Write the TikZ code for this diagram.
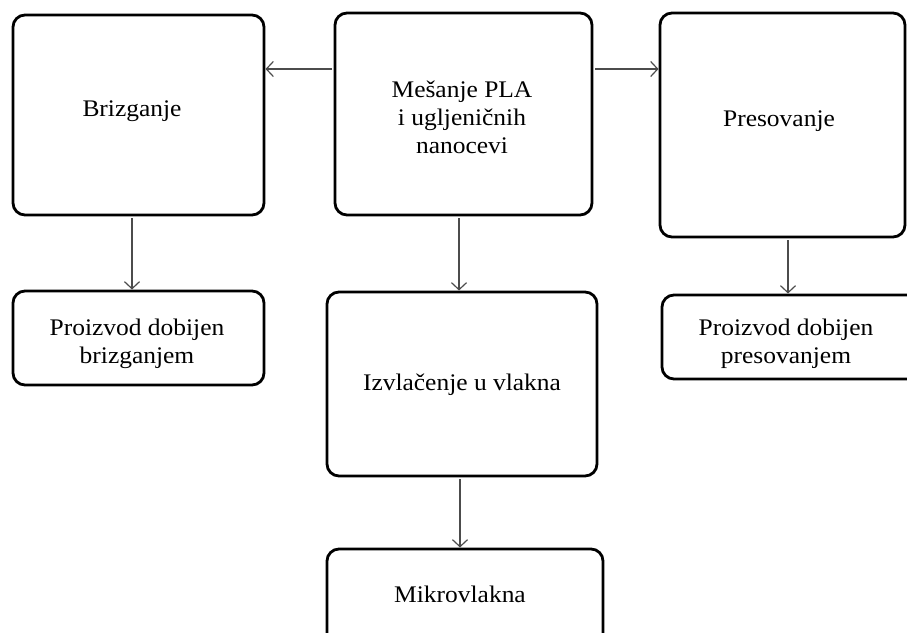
\documentclass[tikz,border=0pt]{standalone}
\usepackage{fontspec}
\setmainfont{Liberation Serif}[FakeStretch=1.07]
\usetikzlibrary{arrows.meta}

\tikzset{
  stage/.style={draw=black, line width=2.8pt, rounded corners=12pt,
                inner sep=0pt, outer sep=0pt},
  label/.style={align=center, anchor=base, inner sep=0pt,
                font=\fontsize{23.8}{28}\selectfont, text=black},
  flow/.style={draw=black!70, line width=1.2pt,
               -{Straight Barb[length=7pt,width=15pt,line width=1.2pt]},
               shorten <=3pt, shorten >=1.5pt}
}

\begin{document}
\begin{tikzpicture}[x=1pt, y=-1pt]
  \useasboundingbox (0,0) rectangle (907,632);

  % process boxes
  \node[stage, minimum width=251pt, minimum height=200pt] (brz)  at (138.5,115) {};
  \node[stage, minimum width=257pt, minimum height=202pt] (mes)  at (463.5,114) {};
  \node[stage, minimum width=245pt, minimum height=224pt] (pres) at (782.5,125) {};
  \node[stage, minimum width=251pt, minimum height=94pt]  (pbrz) at (138.5,338) {};
  \node[stage, minimum width=270pt, minimum height=184pt] (izv)  at (462,384) {};
  \node[stage, minimum width=258pt, minimum height=84pt]  (ppres) at (791,337) {};
  \node[stage, minimum width=276pt, minimum height=96pt]  (mik)  at (465,597) {};

  % box texts (base anchor = baseline of the last line)
  \node[label] (tbrz)  at (132,116) {Brizganje};
  \node[label] (tmes)  at (462,153) {Mešanje PLA\\i ugljeničnih\\nanocevi};
  \node[label] (tpres) at (779,126) {Presovanje};
  \node[label] (tpbrz) at (137,363) {Proizvod dobijen\\brizganjem};
  \node[label] (tizv)  at (462,390) {Izvlačenje u vlakna};
  \node[label] (tppres) at (786,363) {Proizvod dobijen\\presovanjem};
  \node[label] (tmik)  at (460,602) {Mikrovlakna};

  % connectors
  \draw[flow] (mes.west |- {(0,69)}) -- (brz.east |- {(0,69)});
  \draw[flow] (mes.east |- {(0,69)}) -- (pres.west |- {(0,69)});
  \draw[flow] (brz.south -| {(132,0)}) -- (pbrz.north -| {(132,0)});
  \draw[flow] (mes.south -| {(459,0)}) -- (izv.north -| {(459,0)});
  \draw[flow] (pres.south -| {(788,0)}) -- (ppres.north -| {(788,0)});
  \draw[flow] (izv.south -| {(460,0)}) -- (mik.north -| {(460,0)});
\end{tikzpicture}
\end{document}
